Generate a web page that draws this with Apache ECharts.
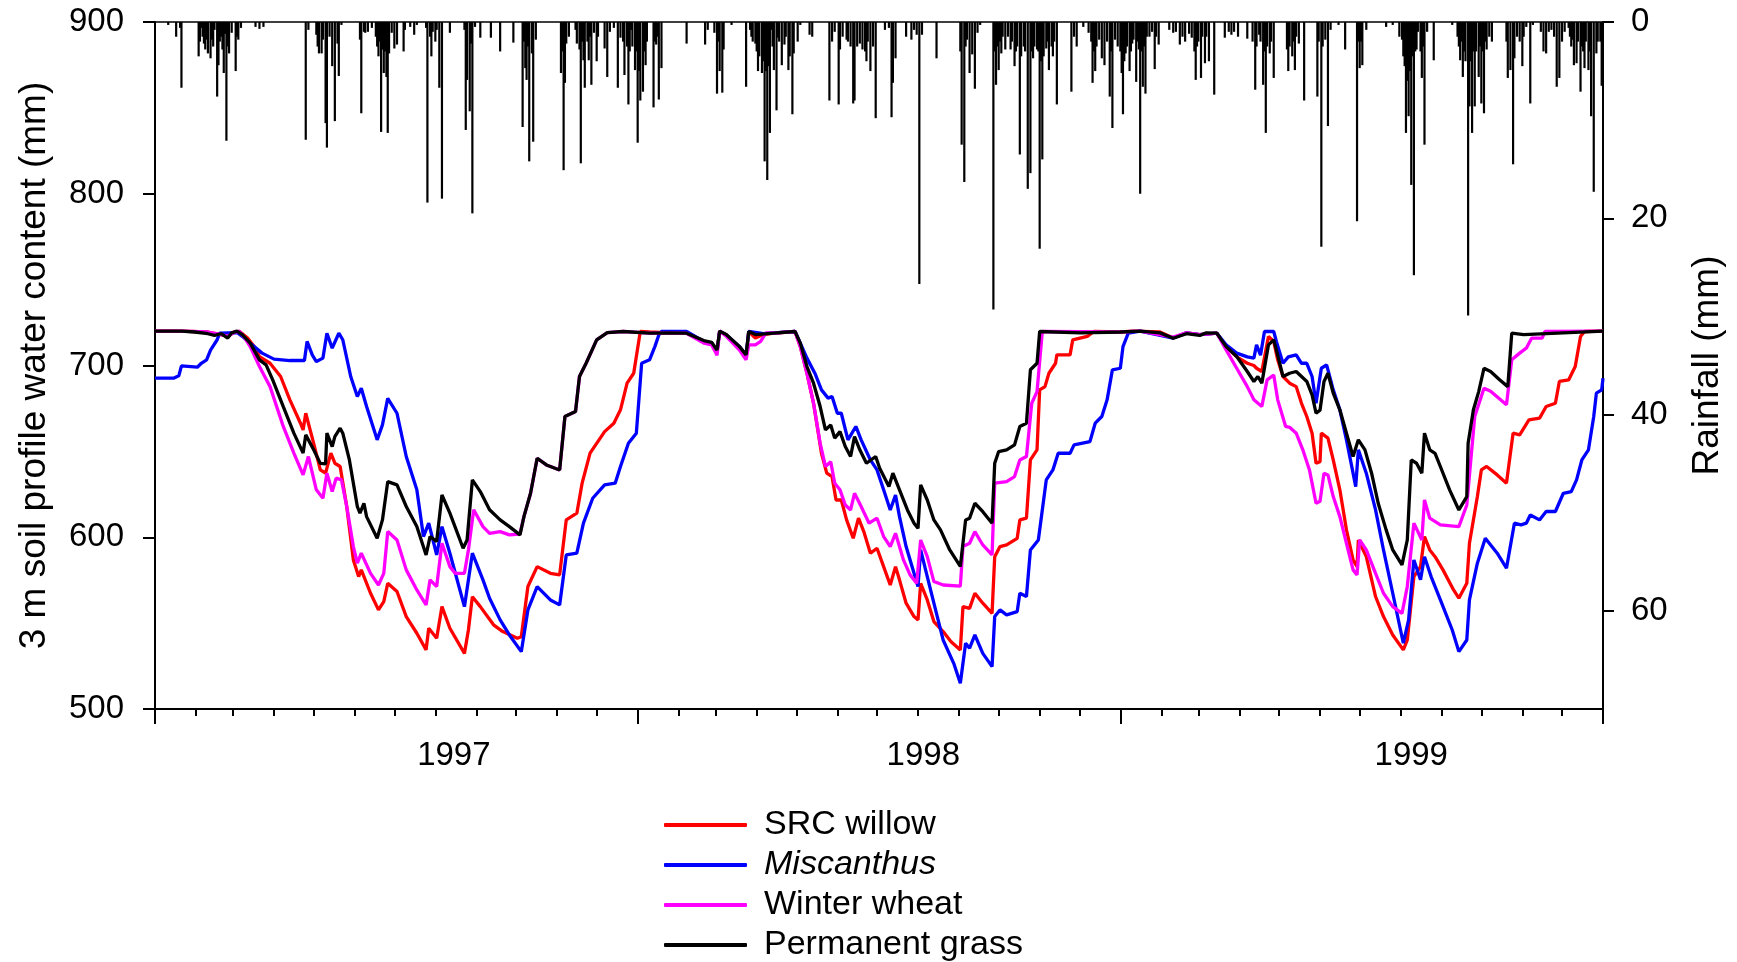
<!DOCTYPE html>
<html><head><meta charset="utf-8">
<script src="https://cdn.jsdelivr.net/npm/echarts@6/dist/echarts.min.js"></script>
<style>html,body{margin:0;padding:0;background:#fff}#c{width:1737px;height:962px}</style>
</head><body><div id="c"></div><script>
// x values are days since 1 Jan 1997
const START = Date.UTC(1997, 0, 1);
const X_MAX = 1095;
const yearTickDays = [0, 365, 730, 1095];
const xLabelDays = [226, 581, 950];
const xLabels = ['1997', '1998', '1999'];
const leftTicks = [500, 600, 700, 800, 900];
const rainTicks = [0, 20, 40, 60];

const seriesNames = ['SRC willow', 'Miscanthus', 'Winter wheat', 'Permanent grass'];

const srcWillow = [[0,720],[20,720],[40,719.5],[50,718],[55,717],[60,719.5],[64,719.8],[70,716],[75,711],[79,705.2],[87,701.3],[95,693.6],[102,680],[110,666.4],[112,662.5],[114,672.2],[120,654.7],[125,639.2],[129,637.3],[133,649],[136,643.1],[140,641.2],[145,617.9],[150,586.8],[154,577.1],[156,581],[163,567.4],[169,557.7],[173,562.5],[176,573.2],[183,568.4],[190,553.8],[198,544.1],[205,534.4],[207,547],[213,541.2],[217,559.6],[223,547],[234,532.4],[237,546],[240,565.4],[246,559.6],[256,549],[263,545.1],[274,541.2],[277,542.1],[282,571.3],[289,582.9],[299,579],[306,578.1],[311,610.1],[319,614],[323,631.5],[329,649],[334,654.7],[340,661.5],[347,666.4],[352,674.2],[357,689.7],[362,695.5],[367,719.8],
[374,719.5],[390,719],[402,718.8],[415,714],[421,713],[425,708.1],[427,720],[432,717.8],[442,710.1],[447,705],[449,719.8],[454,716],[460,718],[468,718.8],[484,719.8],[488,711],[493,695.5],[498,678],[504,648.9],[508,637.3],[512,635.3],[515,621.7],[519,621.7],[523,610.1],[528,599.4],[532,611.1],[536,603.3],[541,590.7],[546,593.6],[551,582.9],[556,572.2],[560,582.9],[563,575.2],[568,561.6],[574,553.8],[577,551.9],[579,573.2],[584,563.5],[589,550.9],[596,545.1],[602,539.2],[609,534.4],[611,559.6],[616,558.6],[620,567.4],[626,561.6],[633,555.7],[635,588.7],[639,594.6],[644,595.5],[652,599.4],[654,610.1],[659,611.1],[662,645],[667,650.9],[669,685.8],[673,687.7],[676,695.5],[681,701.3],[682,706.2],[692,706.2],[694,714.9],[705,716.9],[710,719.8],[730,719.5],
[740,720],[760,719.5],[770,716],[780,719],[790,718],[803,718.8],[810,711],[818,705],[826,701.3],[831,700],[833,698.4],[837,696.5],[842,716.9],[846,714],[849,703.3],[853,693.6],[858,689.7],[863,687.7],[867,678],[871,670.3],[875,660.6],[878,643.1],[881,644],[882,660.6],[887,657.7],[891,645],[896,627.6],[901,604.3],[906,586.8],[909,582.9],[910,598.4],[916,588.7],[923,565.5],[929,553.8],[936,543.1],[944,534.4],[947,540.2],[952,577.1],[957,582.9],[960,600.4],[964,592.6],[968,588.7],[974,581],[982,569.3],[986,564.5],[992,573.2],[994,596.5],[1000,623.7],[1003,639.2],[1007,641.2],[1015,636.3],[1022,631.5],[1027,660.6],[1032,659.6],[1039,668.3],[1047,669.3],[1052,676.1],[1059,678],[1062,690.7],[1069,691.6],[1074,699.4],[1078,716.9],[1081,719.8],[1095,720]];

const miscanthus = [[0,692.6],[14,692.6],[18,694],[20,699.8],[32,699],[35,701.3],[39,703.3],[42,709],[47,715],[49,718.8],[62,719.2],[66,717],[72,713],[81,707.2],[90,703.7],[102,702.9],[113,702.9],[115,714],[119,706],[122,702.3],[127,704.3],[130,718.8],[134,710.1],[139,718.8],[142,715],[148,693.6],[153,681.9],[156,686.8],[160,676.1],[168,656.7],[172,665.4],[176,680.9],[183,672.2],[190,647],[198,627.6],[203,600.4],[207,608.2],[213,589.7],[217,606.2],[223,590.7],[234,559.6],[240,590.7],[248,575.2],[253,564.5],[261,551.9],[268,543.1],[277,533.4],[282,557.7],[289,571.3],[299,563.5],[306,560.6],[311,589.7],[319,590.7],[324,608.2],[331,622.7],[340,630.5],[348,631.5],[352,641.2],[358,654.7],[364,660.6],[368,701.3],[374,703.3],[378,711],[381,717.8],[383,719.8],
[402,719.8],[415,714],[421,713],[425,708.1],[427,720],[432,717.8],[442,711],[447,706],[449,719.8],[460,718.5],[468,719],[484,719.8],[488,713],[493,704.3],[499,695.5],[504,685.8],[509,681],[512,682],[516,672.2],[519,672.2],[524,656.7],[530,664.5],[534,656.7],[541,645],[546,639.2],[551,627.6],[556,615.9],[560,624.6],[563,612],[568,594.6],[574,579],[577,571.3],[579,592.6],[584,577.1],[589,561.6],[596,540.2],[604,526.6],[609,515],[613,538.3],[616,535.4],[620,543.1],[626,532.4],[633,524.7],[635,553.8],[639,557.7],[644,554.8],[652,556.7],[654,567.4],[659,565.5],[662,592.6],[668,598.4],[671,615.9],[674,633.4],[679,639.2],[683,648.9],[692,648.9],[695,653.8],[707,655.7],[711,666.4],[716,670.3],[720,680],[724,697.5],[730,698.4],[732,711],[736,718.8],
[745,720],[770,716],[780,719],[790,718],[803,718.8],[810,712],[818,707.2],[826,705],[831,704.3],[833,712],[836,706],[839,719.8],[846,719.8],[848,714],[853,701.3],[857,705],[863,706.2],[867,701.3],[871,701.3],[875,693.6],[878,678],[882,698.4],[886,700.4],[891,685.8],[896,674.2],[901,656.7],[906,637.3],[908,629.5],[910,650.9],[916,637.3],[923,615.9],[929,592.6],[936,567.4],[944,538.3],[948,551.9],[952,586.8],[957,575.2],[960,588.7],[965,577.1],[973,561.6],[981,546],[986,533.4],[992,540.2],[994,563.5],[1000,584.9],[1006,599.4],[1015,590.7],[1022,582],[1028,608.2],[1033,607.2],[1037,608.2],[1040,613],[1047,610.1],[1052,615],[1059,615],[1065,625.6],[1071,626.6],[1075,633.4],[1079,645],[1084,650.9],[1088,670.3],[1090,683.9],[1094,685.8],[1095,692.6]];

const winterWheat = [[0,720],[20,720],[40,719.5],[50,718],[55,717],[60,719.5],[64,719.8],[68,716],[72,711],[79,699.4],[87,687.7],[97,664.5],[105,649],[112,636.3],[116,647],[122,627.6],[127,622.7],[130,637.3],[134,626.6],[137,634.4],[141,633.4],[145,617.9],[150,594.6],[153,584.9],[156,590.7],[163,579],[169,572.2],[173,579],[176,603.3],[183,598.4],[190,581],[198,569.3],[205,560.6],[208,575.2],[213,571.3],[217,596.5],[223,582.9],[227,579],[234,579],[237,592.6],[241,616],[248,606.2],[253,602.3],[261,603.3],[268,601.4],[276,601.9],[279,612],[284,625.6],[289,646],[296,642.1],[306,639.2],[310,670.3],[318,673.2],[321,693.6],[326,701.3],[334,714.9],[342,719.2],[354,719.8],[374,718.8],
[390,719],[402,718.8],[415,713],[421,712],[425,706],[427,720],[432,717],[442,709],[447,703.3],[449,712],[454,712],[458,714],[462,719],[468,718.8],[484,719.8],[488,711],[493,695.5],[498,678],[503,654.7],[507,641.2],[511,644],[514,631.5],[518,627.6],[522,618.8],[526,615.9],[529,625.6],[534,617.9],[540,608.2],[546,611.1],[551,600.4],[556,594.6],[560,602.3],[566,586.8],[571,578.1],[576,573.2],[579,598.4],[584,588.7],[589,574.2],[596,572.2],[609,571.6],[611,594.6],[616,596.5],[620,603.3],[626,595.5],[633,589.7],[635,631.5],[644,632.4],[650,635.3],[654,645],[659,647],[663,678],[667,684.8],[671,719.8],[730,719.5],
[745,720],[770,716.5],[780,719],[790,718],[803,718.8],[810,709.1],[818,698.4],[826,687.7],[831,680],[837,676.1],[841,691.6],[846,694.5],[849,680],[855,664.5],[858,664],[863,660.6],[868,650.9],[873,639.2],[878,619.8],[881,621],[884,637.3],[887,636.3],[891,623.7],[896,612],[901,596.5],[906,581],[909,578.1],[911,598.4],[916,592.6],[923,579],[929,567.4],[936,559.6],[943,555.7],[947,571.3],[952,608.2],[958,598.4],[960,621.7],[964,611.1],[972,607.2],[986,606.2],[992,618.8],[998,670.3],[1005,686.8],[1010,685],[1022,677.1],[1026,703.3],[1032,707.2],[1037,710.1],[1041,715.9],[1049,715.9],[1051,719.8],[1095,720]];

const permanentGrass = [[0,720],[20,720],[30,719.5],[40,718.5],[45,717.5],[50,718.5],[55,716],[58,719],[62,720],[66,718],[72,713],[79,703.3],[84,700.4],[89,691.6],[97,676],[105,660.6],[112,649],[114,659.6],[120,650.9],[125,643],[129,642.7],[130,660.6],[134,652.8],[136,658.6],[140,663.5],[142,660.6],[147,645],[153,617.9],[155,614],[158,619.8],[160,612],[168,599.4],[172,610.1],[176,632.4],[183,630.5],[190,617.9],[198,606.2],[205,589.7],[208,600.4],[213,597.5],[217,624.6],[223,614],[233,593.6],[236,598.4],[240,633.4],[246,626.6],[253,616],[261,610.1],[268,606.2],[276,601.4],[279,612],[284,625.6],[289,646],[296,642.1],[306,639.2],[310,670.3],[318,673.2],[321,693.6],[326,701.3],[334,714.9],[342,719.2],[354,719.8],[374,718.8],
[390,719],[402,718.8],[415,714.5],[421,713.5],[425,709],[427,720],[432,718],[442,711],[447,706.2],[449,719.8],[454,718],[468,718.8],[484,719.8],[488,713],[493,699.4],[498,689.7],[503,676.1],[507,662.5],[511,665.4],[514,657.7],[518,661.5],[522,652.8],[526,647],[529,658.6],[533,650.9],[538,643.1],[545,647],[548,640.2],[555,629.5],[558,637.3],[563,627.6],[569,615.9],[574,608.2],[577,605.2],[579,630.5],[584,621.7],[589,610.1],[594,604.3],[601,592.6],[609,583],[613,610.1],[616,611.1],[620,619.8],[626,614.9],[633,608.2],[635,643.1],[638,649.9],[644,650.9],[650,653.8],[654,664.5],[659,666.4],[662,697.5],[667,701.3],[669,719.8],[700,719],[730,719.5],
[745,720],[760,719],[770,715.9],[780,718.5],[790,717.5],[795,719],[803,718.8],[810,711],[818,705.2],[826,696.5],[831,690.7],[834,693.6],[837,689.7],[842,712],[846,714.9],[848,709.1],[853,693.6],[858,695.5],[863,696.5],[867,693.6],[871,690.7],[875,682.9],[878,672.2],[881,674],[884,690.7],[887,695.5],[891,683.9],[896,674.2],[901,660.6],[906,647],[910,656.7],[915,650.9],[920,637.3],[925,619.8],[931,604.3],[936,592.6],[943,583.9],[947,598.4],[950,645],[954,643.1],[958,637.3],[960,660.6],[964,650.9],[968,648.9],[972,641.2],[979,627.6],[986,615.9],[992,623.7],[993,654.7],[997,674.2],[1001,684.8],[1005,698.4],[1010,696.5],[1017,691.6],[1023,687.7],[1026,718.8],[1035,718],[1095,720]];

const rainfall = [[10,0.3],[16,1.5],[19,0.6],[20,6.7],[33,3.5],[34,2.0],[35,0.6],[36,1.5],[37,2.2],[38,2.8],[39,1.8],[40,3.2],[42,3.7],[43,1.8],[44,2.5],[45,0.8],[47,7.6],[48,4.4],[49,2.0],[50,1.5],[51,2.8],[52,5.2],[53,1.2],[54,12.1],[55,2.5],[56,3.2],[58,1.1],[61,5.0],[62,1.5],[63,1.8],[65,0.6],[76,0.5],[79,0.7],[82,0.5],[114,12.0],[116,0.8],[122,1.3],[123,2.5],[124,3.2],[126,3.2],[127,1.8],[129,10.3],[130,12.8],[132,1.5],[134,4.5],[136,10.1],[138,2.2],[139,5.5],[141,0.3],[155,1.8],[156,9.3],[158,1.0],[159,1.1],[161,1.0],[164,0.6],[167,1.5],[168,2.5],[169,3.5],[170,2.0],[171,11.2],[172,2.8],[173,5.2],[174,3.0],[175,5.6],[176,11.3],[177,3.2],[179,1.1],[181,2.7],[183,2.3],[188,3.0],[189,0.8],[193,0.5],[196,1.3],[198,0.3],[205,0.6],[206,18.4],[208,1.5],[209,3.5],[210,1.0],[212,2.0],[213,0.8],[215,6.7],[217,18.0],[223,1.1],[234,0.8],[235,11.0],[236,5.9],[238,9.1],[239,2.2],[240,19.5],[242,0.5],[246,1.6],[254,1.6],[261,3.0],[271,2.1],[278,10.7],[279,2.0],[280,4.7],[281,5.9],[282,2.5],[283,14.2],[285,3.2],[286,12.2],[288,1.8],[307,5.2],[308,3.0],[309,15.1],[310,6.2],[311,2.2],[313,1.5],[318,0.8],[319,2.2],[321,2.8],[322,14.4],[323,2.0],[324,3.9],[325,6.7],[327,2.0],[328,3.9],[329,1.5],[330,6.4],[332,1.1],[334,4.0],[335,1.5],[340,2.7],[342,5.6],[344,1.0],[347,0.6],[350,6.7],[352,1.6],[354,2.0],[355,5.4],[357,2.5],[358,8.4],[359,3.0],[360,0.8],[361,2.5],[363,4.9],[364,3.0],[365,12.3],[366,5.0],[367,8.0],[369,7.1],[370,3.0],[371,4.4],[372,2.0],
[377,8.7],[378,2.0],[379,2.3],[380,1.5],[381,7.9],[383,4.7],[402,2.2],[416,2.3],[418,0.8],[423,1.1],[425,7.3],[426,2.0],[427,5.0],[429,7.2],[430,2.8],[436,0.3],[447,6.6],[450,0.8],[451,1.5],[452,2.0],[454,2.2],[455,3.0],[456,5.0],[457,3.5],[459,5.2],[460,4.0],[461,14.2],[462,5.0],[463,16.1],[464,4.5],[465,11.3],[466,0.8],[467,2.5],[468,4.9],[470,9.0],[471,1.6],[472,2.0],[474,4.4],[476,2.3],[477,1.5],[479,4.9],[480,3.5],[482,9.4],[483,3.2],[486,2.0],[488,0.3],[495,1.3],[497,1.5],[510,8.0],[512,2.0],[514,1.0],[517,8.4],[518,2.8],[520,1.5],[523,1.8],[524,2.0],[526,2.5],[528,8.3],[529,8.0],[531,2.5],[533,2.2],[535,2.8],[537,3.0],[538,4.0],[539,2.0],[541,5.0],[543,2.5],[545,9.8],[552,0.8],[555,0.6],[557,9.7],[558,6.2],[560,3.7],[568,1.5],[572,1.8],[574,0.8],[576,1.3],[578,26.7],[580,1.3],[591,3.7],[609,3.0],[610,12.5],[612,16.3],[613,2.5],[614,1.8],[616,5.2],[618,3.3],[620,6.8],[622,1.1],[624,0.3],[634,29.3],[635,3.0],[636,6.4],[637,2.5],[638,4.9],[639,2.0],[640,3.2],[641,1.5],[643,2.8],[645,1.5],[647,2.8],[648,2.0],[650,4.5],[651,3.0],[652,2.5],[654,13.5],[655,3.5],[657,2.5],[658,3.0],[660,17.0],[662,15.4],[663,3.0],[664,3.7],[665,2.5],[667,2.8],[668,3.0],[669,23.1],[670,4.0],[671,14.0],[672,3.5],[674,2.7],[675,2.0],[676,4.9],[678,2.5],[679,3.5],[680,2.0],[682,8.4],[693,7.1],[695,1.5],[697,2.5],[702,0.5],[706,1.1],[708,2.0],[709,6.2],[710,3.0],[711,5.0],[712,2.5],[714,1.8],[716,3.7],[718,4.4],[720,2.0],[722,7.6],[723,3.0],[724,10.8],[726,1.8],[728,2.5],
[730,3.0],[731,5.2],[732,9.4],[733,4.0],[734,3.2],[735,2.5],[737,5.0],[738,3.0],[739,2.2],[740,1.8],[742,6.1],[743,2.0],[744,2.8],[745,17.5],[746,3.0],[747,6.6],[748,2.5],[749,7.3],[750,1.5],[752,1.5],[754,1.0],[756,4.8],[757,1.5],[759,2.3],[767,0.8],[770,1.1],[772,1.0],[775,2.3],[777,1.5],[779,2.0],[782,1.2],[784,1.6],[786,3.0],[787,5.9],[788,2.5],[789,2.0],[791,5.7],[792,1.5],[794,4.2],[795,1.5],[797,4.0],[801,7.4],[809,1.6],[812,1.0],[814,1.3],[816,1.0],[819,1.5],[826,1.7],[830,2.0],[832,6.9],[833,2.5],[835,1.3],[836,2.0],[838,6.4],[839,3.0],[840,11.3],[841,2.5],[843,3.2],[844,2.0],[846,5.7],[856,2.8],[857,5.0],[858,2.5],[860,3.5],[861,2.0],[862,4.9],[863,1.5],[865,2.2],[869,8.0],[879,7.6],[880,2.0],[882,22.9],[883,2.5],[885,1.8],[887,10.6],[889,0.8],[895,0.3],[900,2.8],[909,20.3],[910,2.0],[911,4.7],[912,2.0],[913,4.4],[916,0.8],[931,0.5],[936,0.3],[941,1.5],[943,1.8],[944,3.5],[945,4.5],[946,11.3],[947,6.0],[948,9.6],[949,5.0],[950,16.6],[951,3.5],[952,25.8],[953,3.0],[954,2.8],[955,1.0],[957,3.0],[958,5.7],[959,2.5],[960,12.5],[962,1.0],[967,3.9],[981,0.3],[985,1.5],[986,2.5],[987,3.9],[988,2.0],[989,5.6],[990,3.0],[991,4.0],[993,29.9],[994,8.6],[995,4.0],[996,11.3],[997,3.0],[998,8.6],[999,3.0],[1001,5.6],[1002,2.5],[1003,8.3],[1004,3.0],[1005,9.3],[1006,2.0],[1007,2.8],[1009,1.5],[1011,2.0],[1022,2.0],[1023,5.7],[1025,4.9],[1027,14.5],[1028,3.7],[1030,1.5],[1032,2.0],[1034,4.5],[1035,1.5],[1037,0.5],[1040,8.3],[1042,0.3],[1048,1.0],[1050,3.0],[1052,3.2],[1054,1.0],[1056,0.8],[1058,1.5],[1060,6.6],[1062,5.7],[1064,2.0],[1066,1.0],[1069,0.6],[1070,1.5],[1071,2.5],[1072,1.8],[1073,4.4],[1075,4.2],[1076,2.0],[1078,7.1],[1079,2.5],[1080,3.0],[1081,4.7],[1082,2.0],[1084,4.9],[1085,3.0],[1086,9.6],[1088,17.3],[1090,3.2],[1091,2.0],[1093,2.0],[1094,6.5]];

// month-start tick positions (calendar)
const monthTickDays = [];
for (let y = 1997; y <= 1999; y++) for (let m = 0; m < 12; m++) monthTickDays.push((Date.UTC(y, m, 1) - START) / 864e5);
monthTickDays.push(X_MAX);

const FONT = '"Liberation Sans", Arial, sans-serif';
const colors = ['#ff0000', '#0000ff', '#ff00ff', '#000000'];
const lineData = [srcWillow, miscanthus, winterWheat, permanentGrass];
const axisLineStyle = { color: '#000', width: 2 };

const chart = echarts.init(document.getElementById('c'), null, { renderer: 'canvas' });
chart.setOption({
  animation: false,
  backgroundColor: '#fff',
  grid: { left: 155, right: 134, top: 22, bottom: 253, show: true, borderColor: '#000', borderWidth: 1.5, backgroundColor: 'transparent' },
  legend: {
    orient: 'vertical', left: 664, top: 808, padding: 0, itemGap: 6,
    itemWidth: 83, itemHeight: 4, icon: 'roundRect',
    textStyle: { fontSize: 34, fontFamily: FONT, color: '#000', lineHeight: 34, padding: [0, 0, 0, 12],
      rich: { i: { fontStyle: 'italic', fontSize: 34, fontFamily: FONT, color: '#000', lineHeight: 34 } } },
    formatter: n => n === 'Miscanthus' ? '{i|Miscanthus}' : n,
    data: seriesNames
  },
  xAxis: [{
    type: 'value', min: 0, max: X_MAX, position: 'bottom',
    axisLine: { onZero: false, lineStyle: axisLineStyle },
    axisTick: { show: true, customValues: monthTickDays, length: 7, lineStyle: { color: '#000', width: 2 } },
    axisLabel: { customValues: xLabelDays, margin: 30, fontSize: 33, fontFamily: FONT, color: '#000',
      formatter: v => { const i = xLabelDays.indexOf(v); return i >= 0 ? xLabels[i] : ''; } },
    splitLine: { show: false }
  }, {
    type: 'value', min: 0, max: X_MAX, position: 'bottom',
    axisLine: { show: false, onZero: false },
    axisTick: { show: true, customValues: yearTickDays, length: 15, lineStyle: { color: '#000', width: 2 } },
    axisLabel: { show: false },
    splitLine: { show: false }
  }],
  yAxis: [{
    type: 'value', min: 500, max: 900, interval: 100, position: 'left',
    name: '3 m soil profile water content (mm)', nameLocation: 'middle', nameGap: 102, nameRotate: 90,
    nameTextStyle: { fontSize: 37, fontFamily: FONT, color: '#000' },
    axisLine: { show: true, onZero: false, lineStyle: axisLineStyle },
    axisTick: { show: true, length: 12, lineStyle: { color: '#000', width: 2 } },
    axisLabel: { fontSize: 33, fontFamily: FONT, color: '#000', margin: 31, customValues: leftTicks },
    splitLine: { show: false }
  }, {
    type: 'value', min: 0, max: 70, inverse: true, position: 'right',
    name: 'Rainfall (mm)', nameLocation: 'middle', nameGap: 86, nameRotate: 90,
    nameTextStyle: { fontSize: 37, fontFamily: FONT, color: '#000' },
    axisLine: { show: true, onZero: false, lineStyle: axisLineStyle },
    axisTick: { show: true, length: 11, customValues: rainTicks, lineStyle: { color: '#000', width: 2 } },
    axisLabel: { fontSize: 33, fontFamily: FONT, color: '#000', margin: 28, customValues: rainTicks },
    splitLine: { show: false }
  }],
  series: [{
    name: 'Rainfall', type: 'bar', xAxisIndex: 0, yAxisIndex: 1,
    data: rainfall, barWidth: 2.2, itemStyle: { color: '#000' }, large: false, silent: true
  }].concat(seriesNames.map((n, i) => ({
    name: n, type: 'line', xAxisIndex: 0, yAxisIndex: 0,
    data: lineData[i], showSymbol: false, symbol: 'none',
    lineStyle: { color: colors[i], width: 3.3 }, itemStyle: { color: colors[i] },
    z: 3 + i
  })))
});
</script></body></html>
